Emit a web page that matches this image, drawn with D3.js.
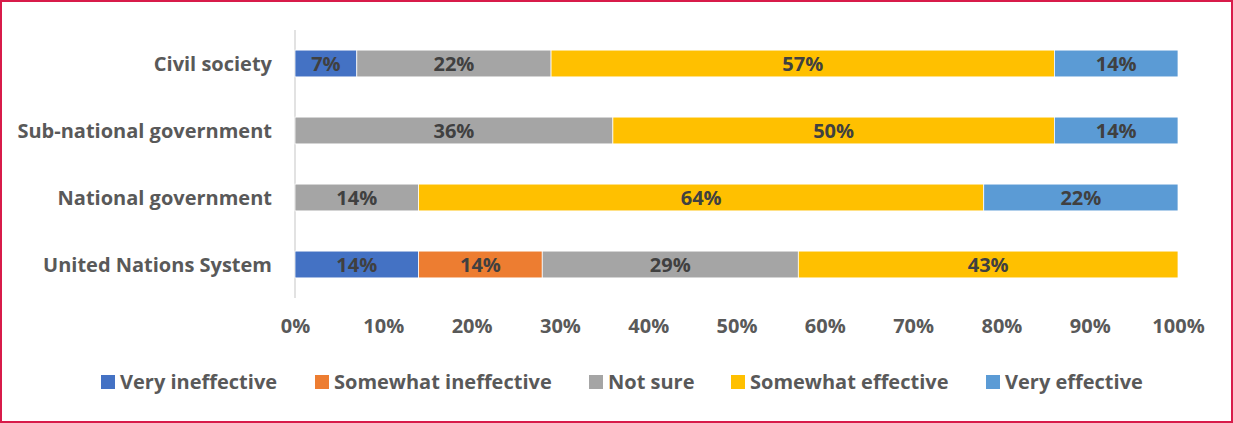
<!DOCTYPE html>
<html>
<head>
<meta charset="utf-8">
<script src="https://cdn.jsdelivr.net/npm/d3@7"></script>
<style>
body { margin: 0; background: #fff; }
svg { display: block; font-family: "Open Sans", Lato, sans-serif; font-weight: bold; }
</style>
</head>
<body>
<svg id="myGraph" width="1233" height="423"></svg>
<script>
var categories = ["Civil society", "Sub-national government", "National government", "United Nations System"]
var seriesNames = ["Very ineffective", "Somewhat ineffective", "Not sure", "Somewhat effective", "Very effective"]
var veryIneffective = [7, 0, 0, 14]
var somewhatIneffective = [0, 0, 0, 14]
var notSure = [22, 36, 14, 29]
var somewhatEffective = [57, 50, 64, 43]
var veryEffective = [14, 14, 22, 0]
var tickValues = [0, 10, 20, 30, 40, 50, 60, 70, 80, 90, 100]
var colors = ["#4472C4", "#ED7D31", "#A5A5A5", "#FFC000", "#5B9BD5"]

var svg = d3.select("#myGraph")
var W = 1233, H = 423
var fontSize = 20

// border
svg.append("rect")
	.attr("x", 1).attr("y", 1)
	.attr("width", W - 2).attr("height", H - 2)
	.attr("fill", "none")
	.attr("stroke", "#D81B4A")
	.attr("stroke-width", 2)

// build table
var table = categories.map(function(c, i) {
	return {
		cat: c,
		"Very ineffective": veryIneffective[i],
		"Somewhat ineffective": somewhatIneffective[i],
		"Not sure": notSure[i],
		"Somewhat effective": somewhatEffective[i],
		"Very effective": veryEffective[i]
	}
})
var stacked = d3.stack().keys(seriesNames)(table)

var xScale = d3.scaleLinear().domain([0, 100]).range([295, 1178])
var yScale = d3.scaleBand().domain(categories).range([30, 298]).paddingInner(0.6).paddingOuter(0.3)

// y axis line
svg.append("line")
	.attr("x1", xScale(0)).attr("x2", xScale(0))
	.attr("y1", 30).attr("y2", 298)
	.attr("stroke", "#D9D9D9").attr("stroke-width", 1.5)

// bars
var groups = svg.selectAll("g.series")
	.data(stacked)
	.enter()
	.append("g")
	.attr("class", "series")
	.attr("fill", function(d, i) { return colors[i] })

groups.selectAll("rect")
	.data(function(d) { return d })
	.enter()
	.append("rect")
	.attr("x", function(d) { return xScale(d[0]) })
	.attr("y", function(d) { return yScale(d.data.cat) })
	.attr("width", function(d) { return xScale(d[1]) - xScale(d[0]) })
	.attr("height", yScale.bandwidth())
	.attr("stroke", "#fff")
	.attr("stroke-width", 0.75)

// value labels
groups.selectAll("text")
	.data(function(d) { return d.filter(function(e) { return e[1] - e[0] > 0 }) })
	.enter()
	.append("text")
	.attr("x", function(d) { return (xScale(d[0]) + xScale(d[1])) / 2 })
	.attr("y", function(d) { return yScale(d.data.cat) + yScale.bandwidth() / 2 })
	.attr("dy", "0.36em")
	.attr("text-anchor", "middle")
	.attr("fill", "#404040")
	.attr("font-size", fontSize)
	.text(function(d) { return (d[1] - d[0]) + "%" })

// category labels
svg.selectAll("text.cat")
	.data(categories)
	.enter()
	.append("text")
	.attr("class", "cat")
	.attr("x", 272)
	.attr("y", function(d) { return yScale(d) + yScale.bandwidth() / 2 })
	.attr("dy", "0.36em")
	.attr("text-anchor", "end")
	.attr("fill", "#595959")
	.attr("font-size", fontSize)
	.text(function(d) { return d })

// x axis
var xAxis = d3.axisBottom(xScale)
	.tickValues(tickValues)
	.tickSize(0)
	.tickPadding(0)
	.tickFormat(function(d) { return d + "%" })

var ax = svg.append("g")
	.attr("transform", "translate(0, 319)")
	.call(xAxis)
ax.select(".domain").remove()
ax.selectAll("text")
	.attr("fill", "#595959")
	.attr("font-size", fontSize)
	.attr("font-family", "'Open Sans', Lato, sans-serif")
	.attr("font-weight", "bold")

// legend
var legendX = [101, 315, 589, 731, 986]
var leg = svg.selectAll("g.legend")
	.data(seriesNames)
	.enter()
	.append("g")
	.attr("class", "legend")
	.attr("transform", function(d, i) { return "translate(" + legendX[i] + ", 382)" })
leg.append("rect")
	.attr("x", 0).attr("y", -7)
	.attr("width", 14).attr("height", 14)
	.attr("fill", function(d, i) { return colors[i] })
leg.append("text")
	.attr("x", 19)
	.attr("dy", "0.36em")
	.attr("fill", "#595959")
	.attr("font-size", fontSize)
	.text(function(d) { return d })
</script>
</body>
</html>
